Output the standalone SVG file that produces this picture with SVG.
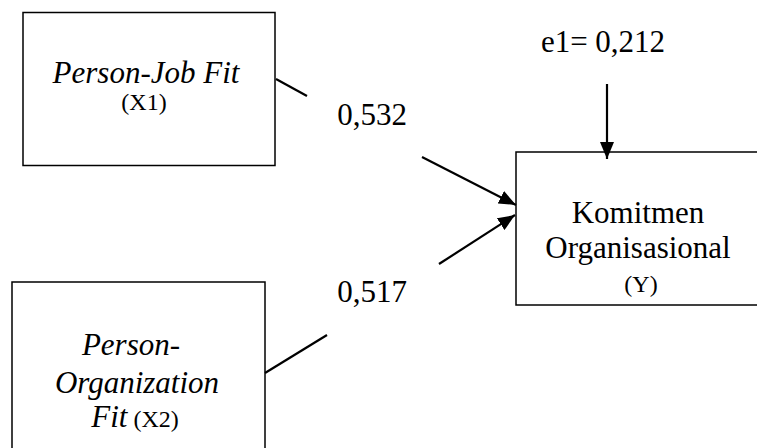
<svg xmlns="http://www.w3.org/2000/svg" width="757" height="448" viewBox="0 0 757 448">
<style>
.box{fill:#fff;stroke:#000;stroke-width:1.5}
.t{font-family:"Liberation Serif","Times New Roman",serif;fill:#000;text-anchor:middle}
.big{font-size:31px}
.sm{font-size:24px}
.it{font-style:italic}
.ln{stroke:#000;stroke-width:2.2;fill:none}
</style>
<defs>
<marker id="ah" markerUnits="userSpaceOnUse" markerWidth="18" markerHeight="14" refX="17" refY="7" orient="auto">
<path d="M0,0 L17,7 L0,14 Z" fill="#000"/>
</marker>
</defs>
<rect width="757" height="448" fill="#fff"/>
<g id="x1">
<rect class="box" x="23" y="12.5" width="252" height="153"/>
<text class="t big it" x="146" y="83">Person-Job Fit</text>
<text class="t sm" x="144" y="110">(X1)</text>
</g>
<g id="x2">
<rect class="box" x="12" y="282" width="253" height="200"/>
<text class="t big it" x="131" y="355">Person-</text>
<text class="t big it" x="137" y="393">Organization</text>
<text class="t" x="135" y="427"><tspan class="big it">Fit</tspan><tspan class="sm"> (X2)</tspan></text>
</g>
<g id="y">
<rect class="box" x="516" y="152" width="260" height="153"/>
<text class="t big" x="638" y="223">Komitmen</text>
<text class="t big" x="638" y="258">Organisasional</text>
<text class="t sm" x="641" y="292">(Y)</text>
</g>
<g id="e1">
<text class="t big" x="603" y="52">e1= 0,212</text>
</g>
<g id="connectors">
<line class="ln" x1="276" y1="79" x2="307" y2="96"/>
<line class="ln" x1="422" y1="157" x2="516" y2="205" marker-end="url(#ah)"/>
<line class="ln" x1="265" y1="373" x2="327" y2="335"/>
<line class="ln" x1="439" y1="264" x2="515" y2="215" marker-end="url(#ah)"/>
<line class="ln" x1="607" y1="84" x2="607" y2="159" marker-end="url(#ah)"/>
<text class="t big" x="372" y="125">0,532</text>
<text class="t big" x="372" y="302">0,517</text>
</g>
</svg>
